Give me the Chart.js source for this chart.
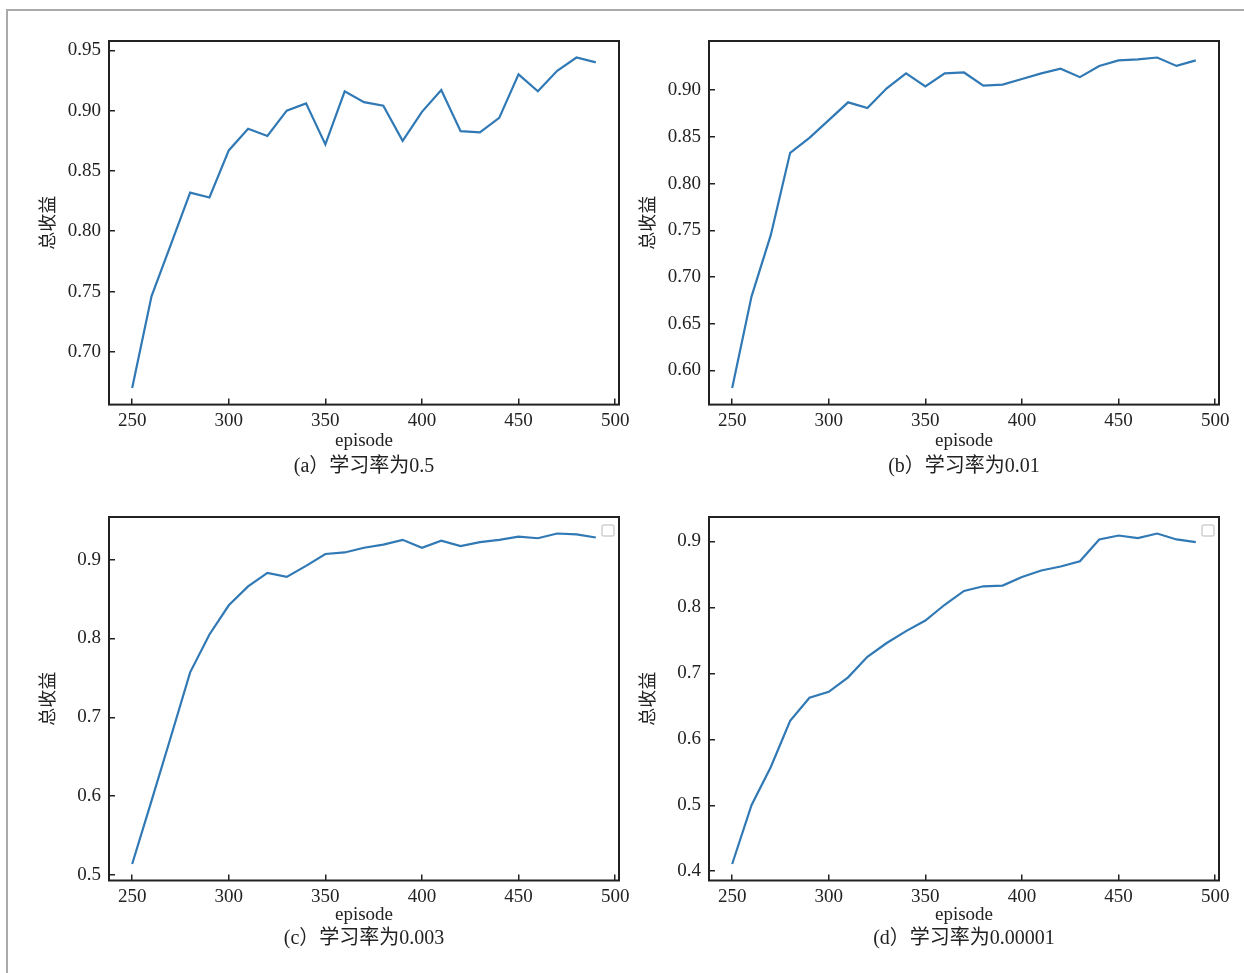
<!DOCTYPE html>
<html>
<head>
<meta charset="utf-8">
<script src="https://cdn.jsdelivr.net/npm/chart.js@4"></script>
<style>
  html, body { margin: 0; padding: 0; background: #fff; }
  body { width: 1244px; height: 973px; position: relative; overflow: hidden; }
  #cadre { position: absolute; left: 6px; top: 9px; width: 1300px; height: 1000px;
           border-top: 2px solid #aaa; border-left: 2px solid #aaa; }
  canvas { position: absolute; }
</style>
</head>
<body>
<div id="cadre"></div>
<canvas id="c-a" width="610" height="462" style="left:20px;top:20px"></canvas>
<canvas id="c-b" width="610" height="462" style="left:620px;top:20px"></canvas>
<canvas id="c-c" width="610" height="458" style="left:20px;top:496px"></canvas>
<canvas id="c-d" width="610" height="458" style="left:620px;top:496px"></canvas>
<script>
// episodes (axe x)
var episodes = [250, 260, 270, 280, 290, 300, 310, 320, 330, 340, 350, 360, 370,
                380, 390, 400, 410, 420, 430, 440, 450, 460, 470, 480, 490];

// total reward for each learning rate
var recompenseA = [0.670, 0.746, 0.789, 0.832, 0.828, 0.867, 0.885, 0.879, 0.900, 0.906, 0.872, 0.916, 0.907,
                   0.904, 0.875, 0.899, 0.917, 0.883, 0.882, 0.894, 0.930, 0.916, 0.933, 0.944, 0.940];
var recompenseB = [0.581, 0.679, 0.745, 0.833, 0.849, 0.868, 0.887, 0.881, 0.902, 0.918, 0.904, 0.918, 0.919,
                   0.905, 0.906, 0.912, 0.918, 0.923, 0.914, 0.926, 0.932, 0.933, 0.935, 0.926, 0.932];
var recompenseC = [0.514, 0.594, 0.675, 0.757, 0.805, 0.842, 0.866, 0.883, 0.878, 0.892, 0.907, 0.909, 0.915,
                   0.919, 0.925, 0.915, 0.924, 0.917, 0.922, 0.925, 0.929, 0.927, 0.933, 0.932, 0.928];
var recompenseD = [0.411, 0.500, 0.558, 0.628, 0.663, 0.672, 0.694, 0.725, 0.746, 0.764, 0.780, 0.804, 0.825,
                   0.832, 0.833, 0.846, 0.856, 0.862, 0.870, 0.903, 0.909, 0.905, 0.912, 0.903, 0.899];

// tick labels
var ticksX = [250, 300, 350, 400, 450, 500];
var ticksYA = [0.70, 0.75, 0.80, 0.85, 0.90, 0.95];
var ticksYB = [0.60, 0.65, 0.70, 0.75, 0.80, 0.85, 0.90];
var ticksYC = [0.5, 0.6, 0.7, 0.8, 0.9];
var ticksYD = [0.4, 0.5, 0.6, 0.7, 0.8, 0.9];

var legendes = ['(a）学习率为0.5', '(b）学习率为0.01', '(c）学习率为0.003', '(d）学习率为0.00001'];
var titreX = 'episode';
var titreY = '总收益';

var serif = "'Liberation Serif', 'Noto Sans CJK SC', serif";
var encre = '#222';

// cadre noir autour de la zone de tracé
var cadrePlugin = {
  id: 'cadre',
  afterDraw: function (chart) {
    var a = chart.chartArea, ctx = chart.ctx;
    ctx.save();
    ctx.strokeStyle = encre;
    ctx.lineWidth = 2;
    ctx.strokeRect(a.left, a.top, a.right - a.left, a.bottom - a.top);
    ctx.restore();
  }
};

// légende vide (petit carré gris en haut à droite)
var legendeVide = {
  id: 'legendeVide',
  afterDraw: function (chart) {
    var a = chart.chartArea, ctx = chart.ctx;
    var x = a.right - 17, y = a.top + 8, w = 12, h = 11, r = 2;
    ctx.save();
    ctx.strokeStyle = '#cfcfcf';
    ctx.lineWidth = 1.5;
    ctx.beginPath();
    ctx.roundRect(x, y, w, h, r);
    ctx.stroke();
    ctx.restore();
  }
};

function marges(vals) {
  var mn = Math.min.apply(null, vals), mx = Math.max.apply(null, vals);
  var m = (mx - mn) * 0.05;
  return [mn - m, mx + m];
}

function panneau(id, vals, ticksY, decimales, legende, bas, avecLegende) {
  var lim = marges(vals);
  var xMarge = (episodes[episodes.length - 1] - episodes[0]) * 0.05;
  var plugins = [cadrePlugin];
  if (avecLegende) plugins.push(legendeVide);
  return new Chart(document.getElementById(id), {
    type: 'line',
    data: {
      datasets: [{
        data: episodes.map(function (e, i) { return {x: e, y: vals[i]}; }),
        borderColor: '#3079b5',
        borderWidth: 2.2,
        pointRadius: 0,
        tension: 0,
        fill: false
      }]
    },
    plugins: plugins,
    options: {
      responsive: false,
      animation: false,
      layout: { padding: { top: 21, left: 0, right: 11, bottom: 0 } },
      plugins: {
        legend: { display: false },
        tooltip: { enabled: false },
        title: {
          display: true,
          text: legende,
          position: 'bottom',
          fullSize: false,
          color: encre,
          font: { family: serif, size: 20, weight: 'normal' },
          padding: { top: bas ? 1 : 3, bottom: 3 }
        }
      },
      scales: {
        x: {
          type: 'linear',
          min: episodes[0] - xMarge,
          max: episodes[episodes.length - 1] + xMarge,
          afterBuildTicks: function (s) { s.ticks = ticksX.map(function (v) { return {value: v}; }); },
          afterFit: function (s) {
            s.height = bas ? 45.5 : 47.4;
            s.paddingLeft = 0; s.paddingRight = 0;
          },
          border: { display: false },
          grid: { drawOnChartArea: false, drawTicks: true, tickLength: -6, color: encre, lineWidth: 1.5 },
          ticks: { color: encre, padding: 11, maxRotation: 0, font: { family: serif, size: 19 } },
          title: { display: true, text: titreX, color: encre, padding: 0,
                   font: { family: serif, size: 19 } }
        },
        y: {
          type: 'linear',
          min: lim[0],
          max: lim[1],
          afterBuildTicks: function (s) { s.ticks = ticksY.map(function (v) { return {value: v}; }); },
          afterFit: function (s) {
            s.width = 89;
            s.paddingTop = 0; s.paddingBottom = 0;
          },
          border: { display: false },
          grid: { drawOnChartArea: false, drawTicks: true, tickLength: -6, color: encre, lineWidth: 1.5 },
          ticks: { color: encre, padding: 14, font: { family: serif, size: 19 },
                   callback: function (v) { return Number(v).toFixed(decimales); } },
          title: { display: true, text: titreY, color: encre, padding: { top: 16, bottom: 0 },
                   font: { family: "'Noto Sans CJK SC', sans-serif", size: 18 } }
        }
      }
    }
  });
}

panneau('c-a', recompenseA, ticksYA, 2, legendes[0], false, false);
panneau('c-b', recompenseB, ticksYB, 2, legendes[1], false, false);
panneau('c-c', recompenseC, ticksYC, 1, legendes[2], true, true);
panneau('c-d', recompenseD, ticksYD, 1, legendes[3], true, true);
</script>
</body>
</html>
